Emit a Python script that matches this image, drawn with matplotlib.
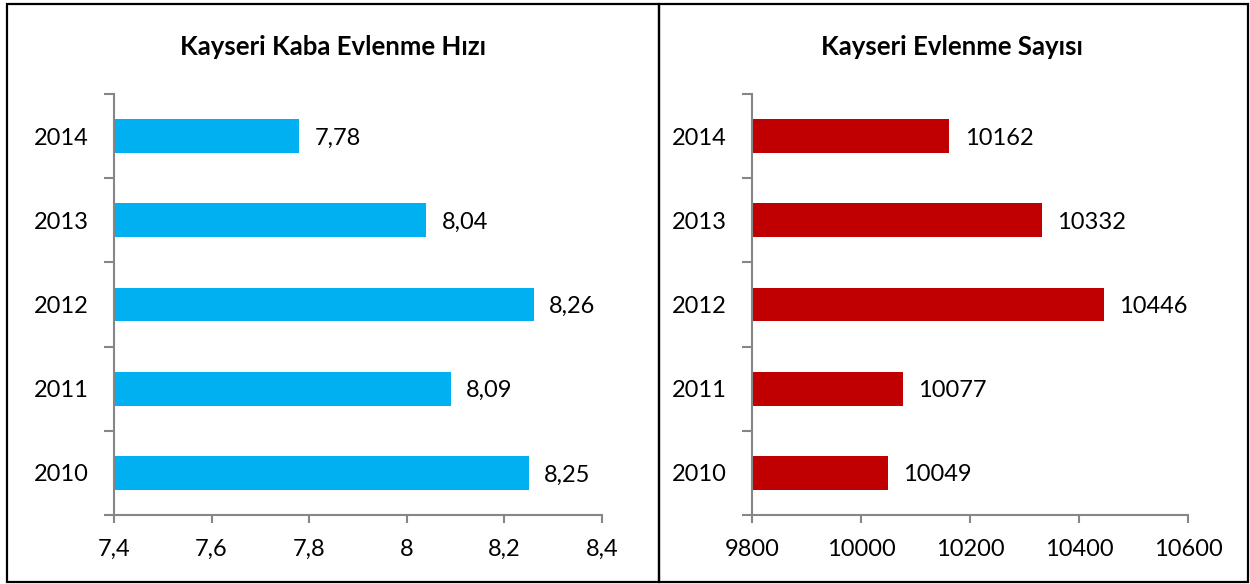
import matplotlib
matplotlib.use("Agg")
import matplotlib.pyplot as plt
from matplotlib.patches import Rectangle
from matplotlib.ticker import FixedLocator, FuncFormatter

plt.rcParams['font.family'] = ['Lato', 'DejaVu Sans']

years = ['2010', '2011', '2012', '2013', '2014']
rate = [8.25, 8.09, 8.26, 8.04, 7.78]
count = [10049, 10077, 10446, 10332, 10162]

rate_ticks = [7.4, 7.6, 7.8, 8.0, 8.2, 8.4]
count_ticks = [9800, 10000, 10200, 10400, 10600]

W, H = 1250, 584
fig = plt.figure(figsize=(W / 100, H / 100), dpi=100)

# panel frames (pixel coords measured from the top)
for x0, x1 in [(7, 659), (659, 1248)]:
    fig.patches.append(Rectangle((x0 / W, 1 - 582 / H), (x1 - x0) / W, (582 - 4) / H,
                                 transform=fig.transFigure, fill=False,
                                 edgecolor='black', linewidth=1.6))

axis_grey = '#868686'
fs = 17


def comma(v, pos=None):
    s = ('%g' % round(v, 2))
    return s.replace('.', ',')


def draw(ax, vals, ticks, color, title, title_x, fmt):
    pos = list(range(len(years)))
    ax.barh(pos, vals, height=0.4, color=color, left=0)
    ax.set_xlim(ticks[0], ticks[-1])
    ax.set_ylim(-0.5, len(years) - 0.5)
    for s in ['top', 'right']:
        ax.spines[s].set_visible(False)
    for s in ['left', 'bottom']:
        ax.spines[s].set_color(axis_grey)
        ax.spines[s].set_linewidth(1.5)
    ax.set_xticks(ticks)
    ax.xaxis.set_major_formatter(FuncFormatter(fmt))
    ax.tick_params(axis='x', length=6, width=1.5, color=axis_grey,
                   labelsize=fs, pad=11)
    # category separators as major ticks, year labels on minor ticks
    ax.yaxis.set_major_locator(FixedLocator([p - 0.5 for p in pos] + [len(years) - 0.5]))
    ax.yaxis.set_major_formatter(FuncFormatter(lambda v, p: ''))
    ax.yaxis.set_minor_locator(FixedLocator(pos))
    ax.set_yticklabels(years, minor=True)
    ax.tick_params(axis='y', which='major', length=7, width=1.5, color=axis_grey)
    ax.tick_params(axis='y', which='minor', length=0, labelsize=fs, pad=18)
    for p, v in zip(pos, vals):
        ax.annotate(fmt(v), (v, p), xytext=(11, -1.5), textcoords='offset points',
                    va='center', ha='left', fontsize=fs)
    ax.patch.set_alpha(0)
    fig.text(title_x / W, 1 - 47 / H, title, ha='center', va='center',
             fontsize=18.5, fontweight='bold')


ax1 = fig.add_axes([114 / W, 1 - 515 / H, (602 - 114) / W, (515 - 94) / H])
draw(ax1, rate, rate_ticks, '#00B0F0', 'Kayseri Kaba Evlenme Hızı', 333, comma)

ax2 = fig.add_axes([752 / W, 1 - 515 / H, (1188 - 752) / W, (515 - 94) / H])
draw(ax2, count, count_ticks, '#C00000', 'Kayseri Evlenme Sayısı', 952,
     lambda v, p=None: '%d' % round(v))

fig.savefig('out.png', dpi=100)
